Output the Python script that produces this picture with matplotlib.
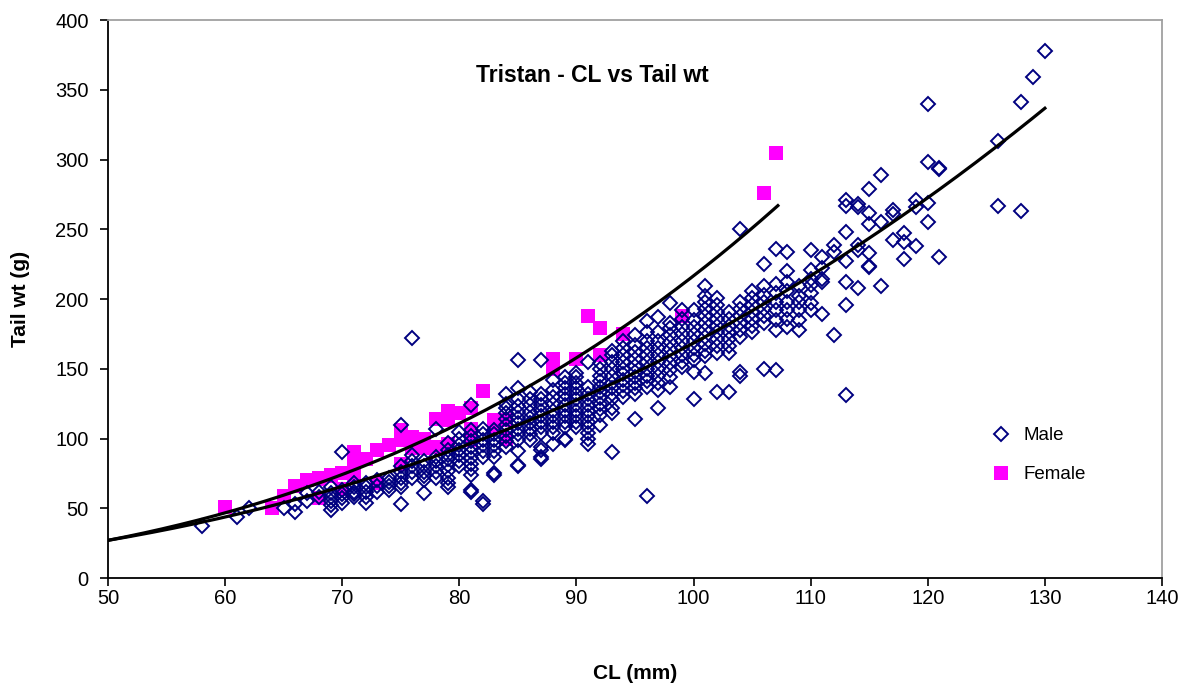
import matplotlib
matplotlib.use("Agg")
import matplotlib.pyplot as plt
import numpy as np

plt.rcParams['font.family'] = ['Liberation Sans', 'DejaVu Sans']

# ---- Male data: CL (mm) -> list of tail weights (g) ----
male_by_cl = {
    58: [37],
    61: [44],
    62: [50],
    65: [50],
    66: [47, 53],
    67: [55, 61],
    68: [58, 62],
    69: [49, 52, 55, 58, 61, 65],
    70: [54, 57, 60, 63, 90],
    71: [58, 60, 62, 65, 68],
    72: [54, 58, 62, 65, 68],
    73: [62, 66, 70],
    74: [63, 66, 69, 72],
    75: [53, 65, 68, 72, 76, 80, 110],
    76: [72, 76, 80, 84, 88, 172],
    77: [61, 70, 73, 76, 80, 84],
    78: [72, 76, 80, 84, 87, 107],
    79: [65, 68, 72, 77, 81, 85, 88, 92, 97],
    80: [80, 84, 88, 92, 95, 100, 105],
    81: [62, 63, 74, 78, 82, 86, 90, 94, 98, 102, 106, 124],
    82: [53, 55, 87, 91, 95, 99, 103, 107],
    83: [74, 75, 87, 91, 95, 99, 103, 106],
    84: [94, 98, 102, 106, 110, 114, 118, 122, 125, 132],
    85: [80, 81, 91, 99, 103, 107, 111, 115, 119, 123, 128, 136, 156],
    86: [99, 103, 107, 111, 115, 119, 124, 128, 133],
    87: [85, 87, 92, 94, 104, 108, 112, 116, 120, 124, 128, 132, 156],
    88: [96, 104, 108, 112, 116, 120, 125, 130, 135, 142],
    89: [99, 100, 108, 112, 116, 120, 124, 128, 132, 136, 140, 144],
    90: [108, 112, 116, 120, 124, 128, 132, 136, 140, 144, 147],
    91: [96, 100, 104, 108, 112, 116, 120, 124, 128, 132, 137, 155],
    92: [110, 117, 121, 125, 129, 133, 137, 141, 145, 150, 154],
    93: [90, 118, 122, 128, 132, 136, 140, 145, 150, 155, 160, 163],
    94: [130, 134, 138, 142, 146, 150, 155, 160, 165, 170],
    95: [114, 132, 136, 140, 144, 148, 152, 157, 162, 167, 174],
    96: [59, 137, 141, 145, 150, 155, 160, 165, 170, 176, 184],
    97: [122, 135, 140, 145, 150, 155, 160, 165, 170, 176, 187],
    98: [137, 144, 149, 154, 159, 164, 169, 174, 179, 183, 197],
    99: [151, 155, 160, 165, 170, 175, 180, 186, 192],
    100: [128, 148, 156, 160, 165, 170, 175, 180, 185, 192],
    101: [147, 159, 163, 168, 173, 178, 183, 188, 193, 198, 202, 209],
    102: [133, 161, 166, 171, 176, 181, 186, 191, 196, 201],
    103: [133, 161, 166, 171, 176, 181, 186, 191],
    104: [145, 148, 173, 178, 183, 188, 193, 198, 250],
    105: [176, 181, 186, 191, 196, 201, 206],
    106: [150, 183, 188, 193, 198, 203, 209, 225],
    107: [149, 178, 185, 192, 198, 204, 211, 236],
    108: [180, 186, 192, 198, 206, 212, 220, 234],
    109: [178, 185, 192, 198, 202, 209],
    110: [192, 197, 204, 210, 214, 221, 235],
    111: [189, 212, 214, 222, 230],
    112: [174, 234, 239],
    113: [131, 196, 212, 227, 248, 267, 271],
    114: [208, 235, 239, 266, 268],
    115: [223, 224, 233, 254, 262, 279],
    116: [209, 255, 289],
    117: [242, 261, 264],
    118: [229, 241, 247],
    119: [238, 266, 271],
    120: [255, 269, 298, 340],
    121: [230, 293, 294],
    126: [267, 313],
    128: [263, 341],
    129: [359],
    130: [378],
}

# ---- Female data ----
female_by_cl = {
    60: [51],
    64: [50],
    65: [59],
    66: [66],
    67: [70],
    68: [57, 71, 72],
    69: [73, 74],
    70: [64, 75],
    71: [73, 78, 88, 90],
    72: [85],
    73: [68, 92],
    74: [95],
    75: [82, 99, 106],
    76: [93, 101],
    77: [93, 100],
    78: [94, 114],
    79: [96, 113, 120],
    80: [118],
    81: [99, 107, 122],
    82: [134],
    83: [108, 113],
    84: [100, 113],
    88: [150, 157],
    90: [157],
    91: [188],
    92: [160, 179],
    94: [175],
    99: [188],
    106: [276],
    107: [305],
}

# Power trendlines y = a * x^b
male_trend_a, male_trend_b = 8.798e-4, 2.641
male_trend_range = (50, 130)
female_trend_a, female_trend_b = 2.1266e-4, 3.004
female_trend_range = (50, 107.2)

x_ticks = [50, 60, 70, 80, 90, 100, 110, 120, 130, 140]
y_ticks = [0, 50, 100, 150, 200, 250, 300, 350, 400]

male_x = [cl for cl, ws in male_by_cl.items() for _ in ws]
male_y = [w for ws in male_by_cl.values() for w in ws]
female_x = [cl for cl, ws in female_by_cl.items() for _ in ws]
female_y = [w for ws in female_by_cl.values() for w in ws]

fig = plt.figure(figsize=(11.92, 6.89), dpi=100)
ax = fig.add_axes([108/1192, 1 - 578/689, (1162-108)/1192, (578-20)/689])

ax.plot(female_x, female_y, linestyle='none', marker='s', markersize=9.5,
        color='#FF00FF', markeredgewidth=0, label='Female', zorder=2)
ax.plot(male_x, male_y, linestyle='none', marker='D', markersize=6.8,
        markerfacecolor='none', markeredgecolor='#000080', markeredgewidth=1.4,
        label='Male', zorder=3)

xm = np.linspace(*male_trend_range, 300)
ax.plot(xm, male_trend_a * xm ** male_trend_b, color='black', lw=2.3, zorder=4)
xf = np.linspace(*female_trend_range, 300)
ax.plot(xf, female_trend_a * xf ** female_trend_b, color='black', lw=2.3, zorder=4)

ax.set_xlim(50, 140)
ax.set_ylim(0, 400)
ax.set_xticks(x_ticks)
ax.set_yticks(y_ticks)
ax.tick_params(direction='out', length=6, width=1.2, labelsize=14.5, colors='black')
ax.tick_params(axis='x', pad=2)
ax.tick_params(axis='y', pad=8)
for s in ['left', 'bottom']:
    ax.spines[s].set_color('black')
    ax.spines[s].set_linewidth(1.3)
for s in ['top', 'right']:
    ax.spines[s].set_color('#a0a0a0')
    ax.spines[s].set_linewidth(1.3)

ax.set_xlabel('CL (mm)', fontsize=15, fontweight='bold', labelpad=40)
ax.set_ylabel('Tail wt (g)', fontsize=15, fontweight='bold', labelpad=18)
ax.text(0.460, 0.900, 'Tristan - CL vs Tail wt', transform=ax.transAxes,
        fontsize=16.5, fontweight='bold', ha='center', va='center')

handles, labels = ax.get_legend_handles_labels()
order = [1, 0]
ax.legend([handles[i] for i in order], [labels[i] for i in order],
          loc='center left', bbox_to_anchor=(0.822, 0.220), frameon=False,
          fontsize=13.5, handletextpad=0.7, labelspacing=1.15, handlelength=1.0)

fig.savefig('out.png', dpi=100)
